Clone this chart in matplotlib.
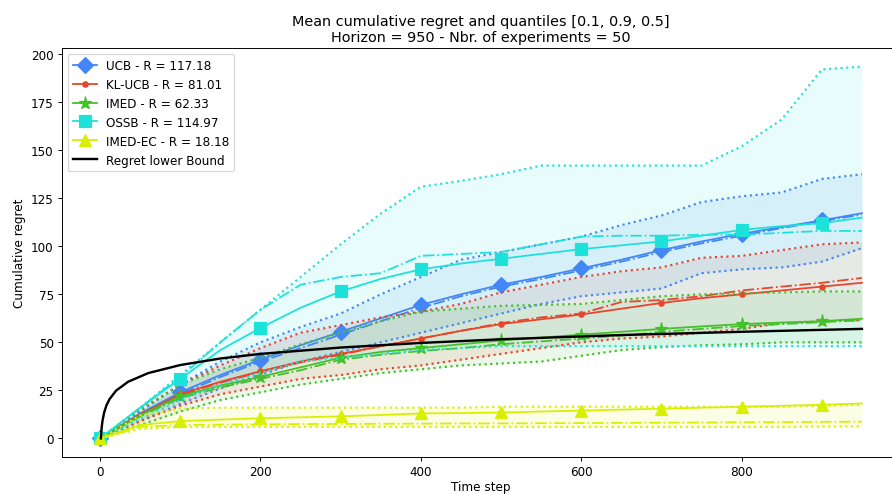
import matplotlib.pyplot as plt
import numpy as np

# time grid (every 50 steps) and read-off values
steps = [0, 50, 100, 150, 200, 250, 300, 350, 400, 450, 500, 550, 600, 650, 700, 750, 800, 850, 900, 950]

ucb_mean = [0, 13, 24, 33, 41, 48.5, 55.5, 62.5, 69.5, 75, 80, 84, 88.5, 93, 98, 102.5, 106.5, 110, 113.5, 117.2]
ucb_med = [0, 12.5, 23, 32, 40, 47, 54, 61, 68, 74, 79, 83, 87.5, 92, 97, 101.5, 105.5, 109.5, 113, 116.5]
ucb_q10 = [0, 9, 18, 26, 33, 40, 45, 50, 55, 60, 65, 70, 74, 76, 78, 86, 88, 89, 92, 99]
ucb_q90 = [0, 14, 28, 40, 50, 58, 65, 75, 84, 93, 97, 101, 105, 111, 116, 123, 126, 128, 135, 137.5]

kl_mean = [0, 12.5, 23, 29.5, 35, 40, 44, 48, 52, 56, 59.5, 62, 64.5, 67.5, 70.5, 73, 75, 77, 79, 81]
kl_med = [0, 12, 22.5, 29, 34.5, 39.5, 43.5, 48, 52, 56, 60, 63, 65, 71, 72, 74, 77, 79, 81, 83.5]
kl_q10 = [0, 9, 17, 23, 27, 31, 33, 36, 38, 41, 44, 47, 50, 52, 53, 55, 57, 60, 61, 61.5]
kl_q90 = [0, 15, 28, 38, 47, 55, 59, 63, 66, 70, 76, 80, 84, 87, 89, 94, 95, 98, 101, 102]

imed_mean = [0, 12, 22, 27.5, 32, 37, 42, 45, 47, 49, 51, 52.5, 54, 55.5, 57, 58.3, 59.5, 60.3, 61, 62.3]
imed_med = [0, 11.5, 21, 26.5, 31, 35.5, 41, 43.5, 45.5, 47, 49, 50.5, 52, 53.5, 55.5, 57, 58.5, 59.5, 60.5, 61.5]
imed_q10 = [0, 7, 14, 20, 24, 28, 31, 34, 36, 38, 39, 40, 43, 46, 47.5, 48.5, 49, 50, 50, 50]
imed_q90 = [0, 15, 28, 36, 42, 49, 55, 61, 66, 67.5, 69, 69.5, 70, 72, 74, 75, 75.5, 76, 76.5, 76.5]

ossb_mean = [0, 16, 31, 46, 57.5, 68, 76.5, 83, 88, 91, 93.5, 96, 98.5, 100.5, 102.5, 105.5, 108.5, 110.5, 112, 114.9]
ossb_med = [0, 16, 32, 50, 67, 80, 84, 86, 95, 96, 97, 101, 105, 105.5, 105.5, 106, 106, 107, 108, 108]
ossb_q10 = [0, 10, 20, 28, 34, 40, 42, 44, 46, 47, 48, 48, 48, 48, 48, 48, 48, 48, 48, 48]
ossb_q90 = [0, 16, 33, 50, 67, 84, 101, 117, 131, 134, 137.5, 142, 142, 142, 142, 142, 152, 166, 192, 193.5]

ec_mean = [0, 7, 9, 9.8, 10.5, 11, 11.5, 12.2, 13, 13.2, 13.5, 14, 14.5, 15, 15.5, 16, 16.5, 17, 17.5, 18.2]
ec_med = [0, 6, 7, 7.2, 7.3, 7.5, 7.5, 7.6, 7.7, 7.8, 7.8, 7.9, 8, 8.1, 8.2, 8.3, 8.4, 8.5, 8.6, 8.7]
ec_q10 = [0, 5, 6, 6, 6, 6, 6, 6, 6, 6, 6, 6, 6, 6, 6, 6, 6, 6, 6.2, 6.3]
ec_q90 = [0, 12, 15.5, 16, 16, 16, 16, 16, 16, 16, 16.5, 16.5, 16.5, 16.5, 16.5, 16.5, 16.5, 16.5, 17, 17.5]

lb_steps = [1, 2, 3, 5, 8, 12, 20, 35, 60, 100, 150, 200, 300, 400, 500, 650, 800, 950]
lb_vals = [0, 5.8, 9.1, 13.4, 17.3, 20.6, 24.9, 29.5, 34, 38.2, 41.6, 44, 47.3, 49.7, 51.6, 53.8, 55.5, 57]

names = ["UCB", "KL-UCB", "IMED", "OSSB", "IMED-EC"]
final_regret = [117.18, 81.01, 62.33, 114.97, 18.18]
colors = ["#4287f5", "#e8452c", "#44c02a", "#1de2da", "#d8f000"]
markers = ["D", "o", "*", "s", "^"]
msizes = [9, 4.5, 11, 9.5, 9.5]

series = [
    (ucb_mean, ucb_med, ucb_q10, ucb_q90),
    (kl_mean, kl_med, kl_q10, kl_q90),
    (imed_mean, imed_med, imed_q10, imed_q90),
    (ossb_mean, ossb_med, ossb_q10, ossb_q90),
    (ec_mean, ec_med, ec_q10, ec_q90),
]

DPI = 86
fig = plt.figure(figsize=(892 / DPI, 495 / DPI), dpi=DPI)
ax = fig.add_axes([0.0695, 0.0747, 0.9395, 0.8263])

for name, r, c, m, ms, (mean, med, q10, q90) in zip(names, final_regret, colors, markers, msizes, series):
    ax.plot(steps, mean, color=c, marker=m, markersize=ms, markevery=2, lw=1.5,
            label=f"{name} - R = {r}")
    ax.plot(steps, med, color=c, ls="-.", lw=1.5)
    ax.plot(steps, q10, color=c, ls=":", lw=1.8)
    ax.plot(steps, q90, color=c, ls=":", lw=1.8)
    ax.fill_between(steps, q10, q90, color=c, alpha=0.1, lw=0)

ax.plot(lb_steps, lb_vals, color="black", lw=2, label="Regret lower Bound")

ax.set_title("Mean cumulative regret and quantiles [0.1, 0.9, 0.5]\n"
             "Horizon = 950 - Nbr. of experiments = 50", fontsize=12)
ax.set_xlabel("Time step", labelpad=1)
ax.set_ylabel("Cumulative regret")
ax.set_xticks([0, 200, 400, 600, 800])
ax.set_yticks(np.arange(0, 201, 25))
ax.legend(loc="upper left")

fig.savefig("out.png", dpi=DPI)
